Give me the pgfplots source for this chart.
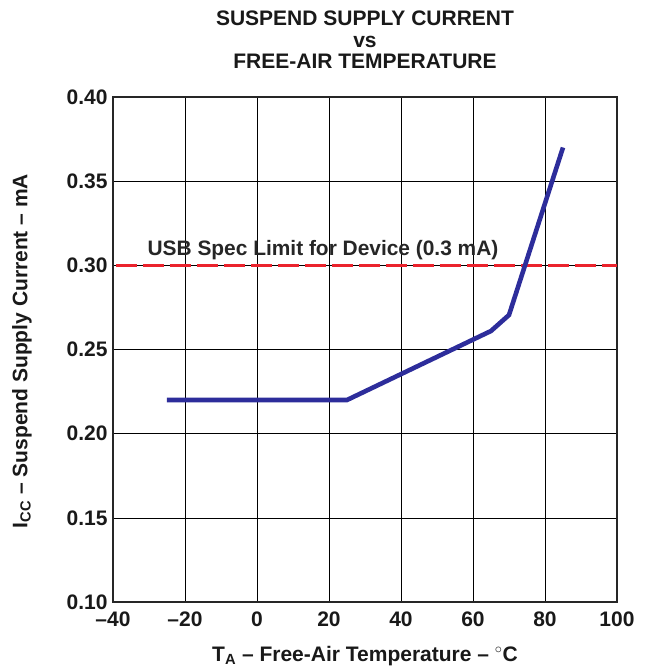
\documentclass[border=0pt]{standalone}
\usepackage{pgfplots}
\pgfplotsset{compat=1.18}
\usepackage{fontspec}
\setmainfont{Liberation Sans}
\definecolor{lineblue}{RGB}{45,45,155}
\definecolor{specred}{RGB}{235,35,45}
\begin{document}
\begin{tikzpicture}[x=1pt,y=1pt]
\path[use as bounding box] (0,0) rectangle (645,670);
\begin{axis}[
  at={(113pt,68pt)}, anchor=south west,
  width=504pt, height=505pt, scale only axis,
  xmin=-40, xmax=100, ymin=0.10, ymax=0.40,
  xtick={-40,-20,0,20,40,60,80,100},
  xticklabels={\textendash40,\textendash20,0,20,40,60,80,100},
  ytick={0.10,0.15,0.20,0.25,0.30,0.35,0.40},
  yticklabels={0.10,0.15,0.20,0.25,0.30,0.35,0.40},
  grid=major, major grid style={black, line width=0.6pt},
  axis line style={line width=2.2pt, black!85},
  tick style={draw=none},
  xticklabel style={font=\fontsize{21}{23}\selectfont\bfseries, text=black!90, yshift=-6pt},
  yticklabel style={font=\fontsize{21}{23}\selectfont\bfseries, text=black!90, xshift=-2pt},
  clip=false,
]
\addplot[specred, line width=2.5pt, dash pattern=on 21pt off 6pt, dash phase=-3pt] coordinates {(-40,0.30) (100,0.30)};
\addplot[lineblue, line width=4.6pt] coordinates {(-25,0.22) (25,0.22) (65,0.261) (70,0.2705) (85,0.37)};
\node[anchor=base, font=\fontsize{20.9}{23}\selectfont\bfseries, text=black!85] at (axis cs:18.33,0.3056) {USB Spec Limit for Device (0.3 mA)};
\end{axis}
\node[anchor=base, font=\fontsize{21}{21.5}\selectfont\bfseries, align=center, text=black!90] at (365,601) {SUSPEND SUPPLY CURRENT\\vs\\FREE-AIR TEMPERATURE};
\node[font=\fontsize{21}{23}\selectfont\bfseries, rotate=90, text=black!90] at (22,319) {I\textsubscript{CC} \textendash{} Suspend Supply Current \textendash{} mA};
\node[font=\fontsize{21}{23}\selectfont\bfseries, text=black!90] at (365,14) {T\textsubscript{A} \textendash{} Free-Air Temperature \textendash{} $^\circ$C};
\end{tikzpicture}
\end{document}
